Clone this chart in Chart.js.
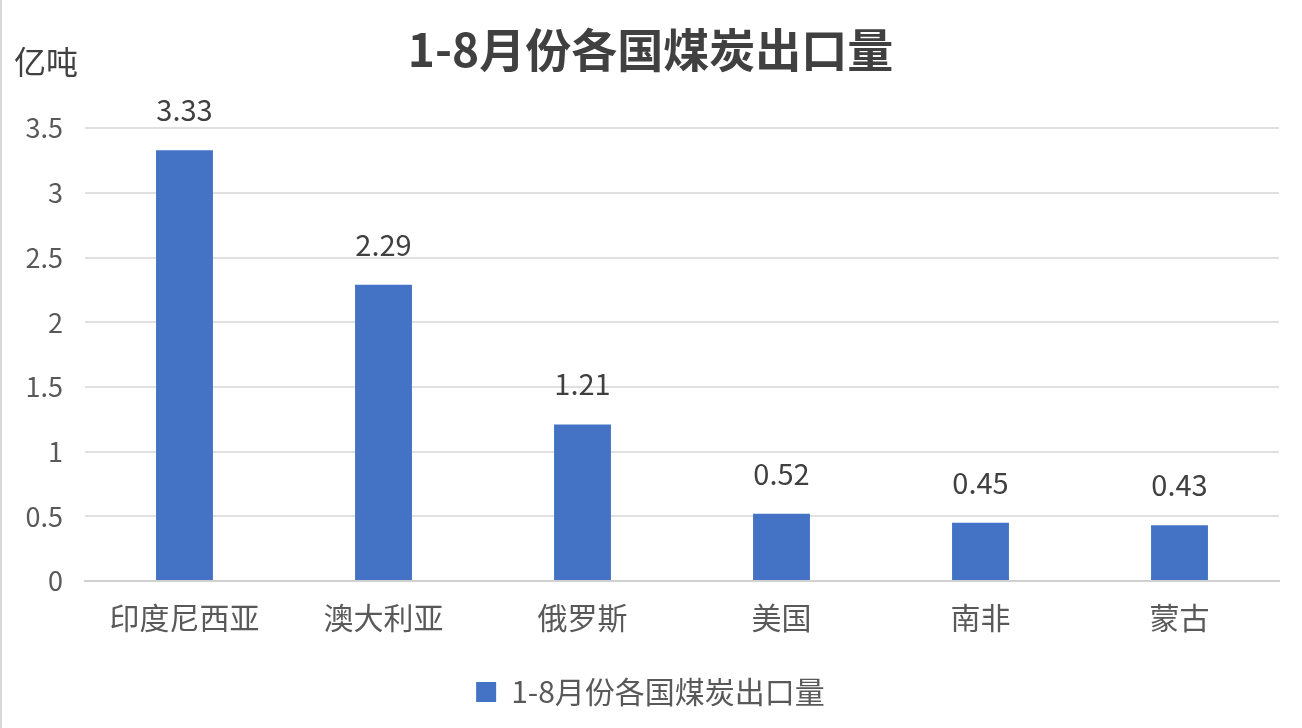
<!DOCTYPE html>
<html lang="zh-CN">
<head>
<meta charset="utf-8">
<title>1-8月份各国煤炭出口量</title>
<script src="https://cdn.jsdelivr.net/npm/chart.js@4.4.0/dist/chart.umd.min.js"></script>
<style>
    html, body { margin: 0; padding: 0; background: #ffffff; }
    #grafica { display: block; }
</style>
</head>
<body>
<canvas id="grafica" width="1302" height="728"></canvas>
<script>
const TITULO = '1-8月份各国煤炭出口量';
const UNIDAD = '亿吨';
const paises = ['印度尼西亚', '澳大利亚', '俄罗斯', '美国', '南非', '蒙古'];
const exportaciones = [3.33, 2.29, 1.21, 0.52, 0.45, 0.43];
const ticksY = [0, 0.5, 1, 1.5, 2, 2.5, 3, 3.5];

const FUENTE = '"Noto Sans CJK SC", "Noto Sans", sans-serif';
const AZUL = '#4472C4';

// fondo blanco y la línea gris del borde izquierdo
const pluginFondo = {
    id: 'fondo',
    beforeDraw(chart) {
        const { ctx, width, height } = chart;
        ctx.save();
        ctx.fillStyle = '#ffffff';
        ctx.fillRect(0, 0, width, height);
        ctx.fillStyle = '#d9d9d9';
        ctx.fillRect(0, 0, 2, height);
        ctx.restore();
    }
};

// valores encima de cada barra y la unidad arriba a la izquierda
const pluginEtiquetas = {
    id: 'etiquetas',
    afterDatasetsDraw(chart) {
        const { ctx } = chart;
        const meta = chart.getDatasetMeta(0);
        ctx.save();
        ctx.font = `29px ${FUENTE}`;
        ctx.fillStyle = '#404040';
        ctx.textAlign = 'center';
        ctx.textBaseline = 'middle';
        meta.data.forEach((barra, i) => {
            ctx.fillText(exportaciones[i].toFixed(2), barra.x, barra.y - 40);
        });
        ctx.font = `32px ${FUENTE}`;
        ctx.textAlign = 'left';
        ctx.fillText(UNIDAD, 14, 62);
        ctx.restore();
    }
};

new Chart(document.getElementById('grafica'), {
    type: 'bar',
    data: {
        labels: paises,
        datasets: [{
            label: TITULO,
            data: exportaciones,
            backgroundColor: AZUL,
            borderWidth: 0,
            categoryPercentage: 1,
            barPercentage: 0.286
        }]
    },
    options: {
        responsive: false,
        devicePixelRatio: 1,
        animation: false,
        layout: { padding: { left: 22, right: 23, top: 0, bottom: 11 } },
        plugins: {
            title: {
                display: true,
                text: TITULO,
                color: '#404040',
                font: { family: FUENTE, size: 46, weight: 'bold' },
                padding: { top: 22, bottom: 51 }
            },
            legend: {
                display: true,
                position: 'bottom',
                labels: {
                    color: '#595959',
                    font: { family: FUENTE, size: 30 },
                    boxWidth: 20,
                    boxHeight: 20,
                    padding: 10
                }
            },
            tooltip: { enabled: false }
        },
        scales: {
            x: {
                grid: { display: false, drawTicks: false },
                border: { display: true, color: '#d0d0d0', width: 2 },
                ticks: {
                    color: '#595959',
                    font: { family: FUENTE, size: 30 },
                    padding: 19,
                    maxRotation: 0
                },
                afterFit(scale) { scale.height = 86; }
            },
            y: {
                min: 0,
                max: 3.5,
                grid: { color: '#e0e0e0', lineWidth: 2, drawTicks: false },
                border: { display: false },
                afterBuildTicks(scale) {
                    scale.ticks = ticksY.map(v => ({ value: v }));
                },
                ticks: {
                    color: '#595959',
                    font: { family: FUENTE, size: 27 },
                    padding: 22,
                    callback: v => String(v)
                },
                afterFit(scale) { scale.width = 63; }
            }
        }
    },
    plugins: [pluginFondo, pluginEtiquetas]
});
</script>
</body>
</html>
